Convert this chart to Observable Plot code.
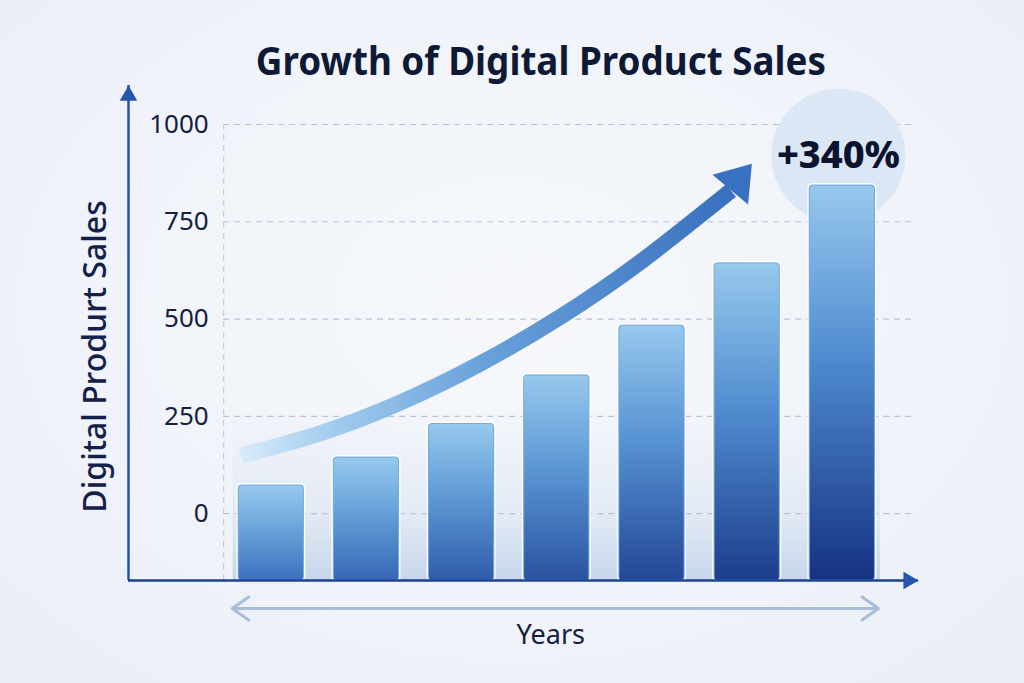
<!DOCTYPE html>
<html>
<head>
<meta charset="utf-8">
<script src="https://cdn.jsdelivr.net/npm/d3@7"></script>
<script src="https://cdn.jsdelivr.net/npm/@observablehq/plot@0.6"></script>
<style>
  html, body { margin: 0; padding: 0; }
  body {
    width: 1024px; height: 683px; overflow: hidden;
    background: radial-gradient(ellipse 70% 75% at 50% 45%, #f6f8fc 0%, #f0f3f9 60%, #e9eef6 100%);
    font-family: "Noto Sans", sans-serif;
  }
  #title {
    height: 80px; box-sizing: border-box; padding-top: 36px; padding-left: 58px;
    text-align: center; font-size: 40px; line-height: 48px; font-weight: 700; color: #0e1a35;
  }
  #title span { display: inline-block; transform: scaleX(0.92); }
  #chart svg { display: block; overflow: visible; }
</style>
</head>
<body>
<div id="title"><span>Growth of Digital Product Sales</span></div>
<div id="chart"></div>
<script>
// Yearly sales (one bar per year)
const years = [2018, 2019, 2020, 2021, 2022, 2023, 2024];
const sales = [72, 144, 230, 355, 483, 643, 843];
const yTicks = [0, 250, 500, 750, 1000];

// Curved trend arrow sketched over the bars (year, sales)
const trendYears  = [2017.68, 2018.52, 2019.36, 2020.20, 2021.04, 2021.88, 2022.83];
const trendValues = [149, 207, 286, 386, 506, 647, 830];
const trendHead = { year: 2022.92, value: 861 };

// Growth callout above the last bar
const growthLabel = "+340%";
const growthSpot = { year: 2024, value: 920 };

const yLabel = "Digital Produrt Sales";
const xLabel = "Years";

// Layout of the axes in data units
const axisX0 = 2016.5, axisX1 = 2024.8;   // x axis line extent
const gridX0 = 2017.5, gridX1 = 2024.74;  // grid extent
const yFloor = -172, yTop = 1100;         // baseline and top of the y axis arrow

const bars = years.map((year, i) => ({ year, value: sales[i], i }));
const trend = trendYears.map((year, i) => ({ year, value: trendValues[i] }));

// Filled arrow-head symbol (tip points up before rotation)
const headSymbol = {
  draw(context, size) {
    const r = Math.sqrt(size / Math.PI);
    context.moveTo(0, -1.2 * r);
    context.lineTo(1.45 * r, 0.9 * r);
    context.lineTo(-1.45 * r, 0.9 * r);
    context.closePath();
  }
};

const marks = [
  // soft blue glow at the foot of the bars
  Plot.rect([0], { x1: () => 2017.6, x2: () => 2024.4, y1: () => yFloor, y2: () => 260, fill: "url(#foot-glow)" }),
  // dashed grid
  Plot.ruleY(yTicks, { x1: () => gridX0, x2: () => gridX1, stroke: "#b7c3d8", strokeWidth: 1.2, strokeDasharray: "6 5" }),
  Plot.ruleX([gridX0], { y1: () => yFloor, y2: () => 1000, stroke: "#c3cde0", strokeWidth: 1.2, strokeDasharray: "6 5" }),
  // growth bubble
  Plot.dot([growthSpot], { x: "year", y: "value", dx: -4, r: 67, fill: "#dce7f5", stroke: "none" }),
];

// bars: white halo then gradient body
bars.forEach((d) => {
  marks.push(Plot.rectY([d], {
    x1: (b) => b.year - 0.5, x2: (b) => b.year + 0.5, y1: () => yFloor, y2: "value",
    insetLeft: 15, insetRight: 15, rx: 3, fill: "none", stroke: "#ffffff", strokeWidth: 4, strokeOpacity: 0.9
  }));
  marks.push(Plot.rectY([d], {
    x1: (b) => b.year - 0.5, x2: (b) => b.year + 0.5, y1: () => yFloor, y2: "value",
    insetLeft: 15, insetRight: 15, rx: 3, fill: `url(#bar-${d.i})`, stroke: "#6ea8dc", strokeWidth: 1
  }));
});

marks.push(
  // trend arrow
  Plot.line(trend, { x: "year", y: "value", curve: "natural", stroke: "url(#trend-grad)", strokeWidth: 16, strokeLinecap: "butt" }),
  Plot.dot([trendHead], { x: "year", y: "value", symbol: headSymbol, r: 16, rotate: 40, fill: "#3970bf", stroke: "none" }),
  // growth label
  Plot.text([growthLabel], { x: () => growthSpot.year, y: () => growthSpot.value, dx: -4, fontSize: 38, fontWeight: 800, fill: "#0b132e" }),
  // axes lines with arrow heads
  Plot.ruleX([axisX0], { y1: () => yFloor, y2: () => yTop, stroke: "#2352a6", strokeWidth: 2.5 }),
  Plot.dot([0], { x: () => axisX0, y: () => yTop, dy: 10, symbol: "triangle", r: 6.5, fill: "#2556aa", stroke: "none" }),
  Plot.ruleY([yFloor], { x1: () => axisX0, x2: () => axisX1, stroke: "#1d4294", strokeWidth: 2.5 }),
  Plot.dot([0], { x: () => axisX1, y: () => yFloor, dx: -10, symbol: "triangle", rotate: 90, r: 6.5, fill: "#2556aa", stroke: "none" }),
  // tick labels
  Plot.text(yTicks, { x: () => gridX0, y: (d) => d, dx: -15, textAnchor: "end", fontSize: 26, fill: "#15203f", text: (d) => String(d) }),
  // y axis title
  Plot.text([yLabel], { frameAnchor: "left", textAnchor: "middle", dx: -33, dy: 4, rotate: -90, fontSize: 32, fontWeight: 500, fill: "#13204a" }),
  // span arrows under the x axis
  Plot.arrow([0], { x1: () => 2021, x2: () => 2017.59, y1: () => yFloor, y2: () => yFloor, dy: 28, stroke: "#a8bdd8", strokeWidth: 3, headLength: 10, headAngle: 70 }),
  Plot.arrow([0], { x1: () => 2021, x2: () => 2024.38, y1: () => yFloor, y2: () => yFloor, dy: 28, stroke: "#a8bdd8", strokeWidth: 3, headLength: 10, headAngle: 70 }),
  Plot.text([xLabel], { x: () => 2021, y: () => yFloor, dx: -6, dy: 55, fontSize: 27, fill: "#14203f" })
);

const chart = Plot.plot({
  width: 1024,
  height: 603,
  marginLeft: 128,
  marginRight: 106,
  marginTop: 44,
  marginBottom: 103,
  x: { domain: [axisX0, axisX1], axis: null },
  y: { domain: [yFloor, 1000], axis: null },
  style: { fontFamily: "Noto Sans", background: "transparent", overflow: "visible" },
  marks
});

// gradients used by the marks
const svg = d3.select(chart);
const defs = svg.insert("defs", ":first-child");

bars.forEach((d) => {
  const t = d.i / (bars.length - 1);
  const g = defs.append("linearGradient").attr("id", `bar-${d.i}`)
    .attr("x1", 0).attr("y1", 0).attr("x2", 0).attr("y2", 1);
  g.append("stop").attr("offset", 0).attr("stop-color", "#97c9ed");
  g.append("stop").attr("offset", 0.45).attr("stop-color", d3.interpolateRgb("#6aa4da", "#4d89cf")(t));
  g.append("stop").attr("offset", 1).attr("stop-color", d3.interpolateRgb("#3c71c0", "#163282")(t));
});

const tg = defs.append("linearGradient").attr("id", "trend-grad")
  .attr("x1", 0).attr("y1", 0).attr("x2", 1).attr("y2", 0);
[[0, "#d8ebf9"], [0.2, "#9fcaed"], [0.5, "#68a1da"], [1, "#3970bf"]].forEach(([o, c]) =>
  tg.append("stop").attr("offset", o).attr("stop-color", c));

const fg = defs.append("linearGradient").attr("id", "foot-glow")
  .attr("x1", 0).attr("y1", 0).attr("x2", 0).attr("y2", 1);
fg.append("stop").attr("offset", 0).attr("stop-color", "#c9d8ec").attr("stop-opacity", 0);
fg.append("stop").attr("offset", 0.6).attr("stop-color", "#c9d8ec").attr("stop-opacity", 0.35);
fg.append("stop").attr("offset", 1).attr("stop-color", "#c4d4ea").attr("stop-opacity", 0.95);

document.getElementById("chart").appendChild(chart);
</script>
</body>
</html>
